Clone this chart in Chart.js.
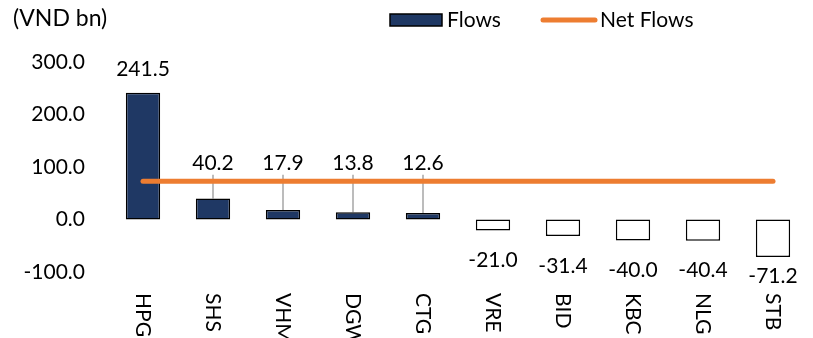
<!DOCTYPE html>
<html>
<head>
<meta charset="utf-8">
<script src="https://cdn.jsdelivr.net/npm/chart.js@4"></script>
<style>
  html, body { margin: 0; padding: 0; background: #fff; }
  #wrap { width: 813px; height: 338px; }
</style>
</head>
<body>
<div id="wrap"><canvas id="flowChart" width="813" height="338"></canvas></div>
<script>
// Data
const categories = ['HPG', 'SHS', 'VHM', 'DGW', 'CTG', 'VRE', 'BID', 'KBC', 'NLG', 'STB'];
const flows = [241.5, 40.2, 17.9, 13.8, 12.6, -21.0, -31.4, -40.0, -40.4, -71.2];
const netFlows = [73, 73, 73, 73, 73, 73, 73, 73, 73, 73];
const yTicks = [-100, 0, 100, 200, 300];
const unitLabel = '(VND bn)';
const seriesNames = ['Flows', 'Net Flows'];

const NAVY = '#1F3864';
const ORANGE = '#ED7D31';
const FONT = 'Lato, "Open Sans", sans-serif';
const TXT = '21px ' + FONT;

// labels, leader lines, rotated category names, legend
const annotate = {
    id: 'annotate',
    beforeDatasetsDraw(chart) {
        const ctx = chart.ctx;
        const y = chart.scales.y;
        const meta = chart.getDatasetMeta(0);
        ctx.save();
        ctx.strokeStyle = '#A6A6A6';
        ctx.lineWidth = 1.5;
        meta.data.forEach((bar, i) => {
            if (flows[i] < 0) return;
            const labelY = Math.min(bar.y - 23, y.getPixelForValue(108));
            if (bar.y - labelY > 30) {
                ctx.beginPath();
                ctx.moveTo(bar.x, labelY + 12);
                ctx.lineTo(bar.x, bar.y);
                ctx.stroke();
            }
        });
        ctx.restore();
    },
    afterDatasetsDraw(chart) {
        const ctx = chart.ctx;
        const y = chart.scales.y;
        const x = chart.scales.x;
        const meta = chart.getDatasetMeta(0);
        ctx.save();
        ctx.fillStyle = '#000';
        ctx.font = TXT;
        ctx.textAlign = 'center';
        ctx.textBaseline = 'middle';
        meta.data.forEach((bar, i) => {
            let ly;
            if (flows[i] >= 0) ly = Math.min(bar.y - 23, y.getPixelForValue(108));
            else ly = Math.min(bar.y + 30, y.getPixelForValue(-108));
            ctx.fillText(flows[i].toFixed(1), bar.x, ly);
        });

        // category names, turned clockwise
        ctx.textAlign = 'left';
        categories.forEach((c, i) => {
            ctx.save();
            ctx.translate(x.getPixelForValue(i), 293);
            ctx.rotate(Math.PI / 2);
            ctx.fillText(c, 0, 0);
            ctx.restore();
        });
        ctx.restore();
    },
    afterDraw(chart) {
        const ctx = chart.ctx;
        ctx.save();
        ctx.fillStyle = '#000';
        ctx.textBaseline = 'middle';
        ctx.textAlign = 'left';
        ctx.font = '23px ' + FONT;
        ctx.fillText(unitLabel, 13, 19);

        // legend
        ctx.font = TXT;
        ctx.fillStyle = NAVY;
        ctx.strokeStyle = '#000';
        ctx.lineWidth = 1.5;
        ctx.fillRect(390, 14, 52, 12);
        ctx.strokeRect(390, 14, 52, 12);
        ctx.fillStyle = '#000';
        ctx.fillText(seriesNames[0], 447, 20);

        ctx.strokeStyle = ORANGE;
        ctx.lineWidth = 5;
        ctx.lineCap = 'round';
        ctx.beginPath();
        ctx.moveTo(543, 20);
        ctx.lineTo(595, 20);
        ctx.stroke();
        ctx.fillText(seriesNames[1], 600, 20);
        ctx.restore();
    }
};

new Chart(document.getElementById('flowChart'), {
    type: 'bar',
    data: {
        labels: categories,
        datasets: [{
            label: seriesNames[0],
            data: flows,
            backgroundColor: flows.map(v => v >= 0 ? NAVY : '#FFFFFF'),
            borderColor: '#000',
            borderWidth: 1.5,
            borderSkipped: false,
            barPercentage: 0.49,
            categoryPercentage: 1,
            order: 1
        }, {
            type: 'line',
            label: seriesNames[1],
            data: netFlows,
            borderColor: ORANGE,
            borderWidth: 5,
            borderCapStyle: 'round',
            pointRadius: 0,
            fill: false,
            order: 0
        }]
    },
    options: {
        responsive: false,
        animation: false,
        layout: { padding: { top: 62, bottom: 66, left: 0, right: 5 } },
        plugins: {
            legend: { display: false },
            tooltip: { enabled: false }
        },
        scales: {
            x: { display: false, offset: true },
            y: {
                min: -100,
                max: 300,
                afterBuildTicks: s => { s.ticks = yTicks.map(v => ({ value: v })); },
                afterFit: s => { s.width = 108; },
                grid: { display: false, drawTicks: false },
                border: { display: false },
                ticks: {
                    padding: 23,
                    color: '#000',
                    font: { family: FONT, size: 21 },
                    callback: v => Number(v).toFixed(1)
                }
            }
        }
    },
    plugins: [annotate]
});
</script>
</body>
</html>
